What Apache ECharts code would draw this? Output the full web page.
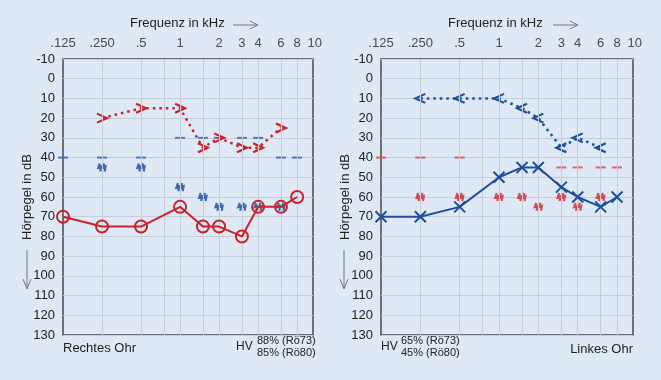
<!DOCTYPE html>
<html><head><meta charset="utf-8">
<script src="https://cdn.jsdelivr.net/npm/echarts@6/dist/echarts.min.js"></script>
<style>html,body{margin:0;padding:0;background:#dee9f5}#c{width:661px;height:380px}</style>
</head><body><div id="c"></div>
<script>
// ---- data ----
const freqTicks = [0.125, 0.25, 0.5, 1, 2, 3, 4, 6, 8, 10];
const freqTickLabels = ['.125', '.250', '.5', '1', '2', '3', '4', '6', '8', '10'];
const gridFreqs = [0.25, 0.5, 0.75, 1, 1.5, 2, 3, 4, 6, 8];
const dbTicksMin = -10, dbTicksMax = 130, dbStep = 10;

const freqAC = [0.125, 0.25, 0.5, 1, 1.5, 2, 3, 4, 6, 8];
const rightEarAC = [70, 75, 75, 65, 75, 75, 80, 65, 65, 60];
const leftEarAC = [70, 70, 65, 50, 45, 45, 55, 60, 65, 60];

const freqBC = [0.25, 0.5, 1, 1.5, 2, 3, 4, 6];
const rightEarBC = [20, 15, 15, 35, 30, 35, 35, 25];
const leftEarBC = [10, 10, 10, 15, 20, 35, 30, 35];

const freqMaskR = [0.125, 0.25, 0.5, 1, 1.5, 2, 3, 4, 6, 8];
const rightEarMask = [40, 40, 40, 30, 30, 30, 30, 30, 40, 40];
const freqMaskL = [0.125, 0.25, 0.5, 3, 4, 6, 8];
const leftEarMask = [40, 40, 40, 45, 45, 45, 45];

const freqWavy = [0.25, 0.5, 1, 1.5, 2, 3, 4, 6];
const rightEarWavy = [45, 45, 55, 60, 65, 65, 65, 65];
const leftEarWavy = [60, 60, 60, 60, 65, 60, 65, 60];

const titleText = 'Frequenz in kHz';
const yName = 'Hörpegel in dB';

// ---- style ----
const BG = '#dee9f5';
const RED = '#c8222c';
const BLUE = '#1e4f9b';
const GRIDC = '#c4ced9';
const TXT = '#222';
const FONT = 'Liberation Sans';
const SYM_X = 'path://M0,0L10,10M10,0L0,10';
const SYM_GT = 'path://M0,0L10,5L0,10';
const SYM_LT = 'path://M10,0L0,5L10,10';
const SYM_WAVY = 'path://M1.5,0L0,5L3,4L2,10M6.5,0L5,5L8,4L7,10';

const zip = (xs, ys) => xs.map((x, i) => [x, ys[i]]);

function xAxisCfg(gi) {
  return {
    gridIndex: gi, type: 'log', logBase: 2, min: 0.125, max: 10.6,
    axisLabel: {show: false}, axisTick: {show: false}, axisLine: {show: false},
    splitLine: {show: false}
  };
}
function yAxisCfg(gi) {
  return {
    gridIndex: gi, type: 'value', inverse: true, min: dbTicksMin, max: dbTicksMax, interval: dbStep,
    axisLine: {show: false}, axisTick: {show: false},
    splitLine: {show: true, lineStyle: {color: GRIDC, width: 1}},
    axisLabel: {color: TXT, fontSize: 13, fontFamily: FONT, margin: 8},
    name: yName, nameLocation: 'middle', nameRotate: 90, nameGap: 29, nameMoveOverlap: false,
    nameTextStyle: {color: TXT, fontSize: 13, fontFamily: FONT}
  };
}
function tickSeries(gi) {
  return {
    type: 'scatter', xAxisIndex: gi, yAxisIndex: gi, symbolSize: 0, silent: true, z: 1, clip: false,
    data: freqTicks.map((f, i) => ({value: [f, dbTicksMin],
      label: i === freqTicks.length - 1 ? {offset: [5, -16]} : undefined})),
    label: {show: true, position: 'inside', offset: [0, -16], color: TXT, fontSize: 13, fontFamily: FONT,
      formatter: p => freqTickLabels[p.dataIndex]},
    markLine: {silent: true, symbol: ['none', 'none'], label: {show: false}, animation: false,
      lineStyle: {color: GRIDC, width: 1, type: 'solid'},
      data: gridFreqs.map(f => ({xAxis: f}))}
  };
}
function maskSeries(gi, xs, ys, color) {
  return {type: 'scatter', xAxisIndex: gi, yAxisIndex: gi, symbol: 'rect', symbolSize: [10, 2], clip: false, z: 3,
    itemStyle: {color: color}, data: zip(xs, ys)};
}
function wavySeries(gi, xs, ys, color) {
  return {type: 'scatter', xAxisIndex: gi, yAxisIndex: gi, symbol: SYM_WAVY, symbolSize: [7, 8], z: 3,
    itemStyle: {color: 'rgba(0,0,0,0)', borderColor: color, borderWidth: 2.4}, data: zip(xs, ys)};
}

const option = {
  backgroundColor: BG,
  animation: false,
  textStyle: {fontFamily: FONT},
  grid: [
    {left: 63, top: 59, width: 250, height: 276, show: true, borderColor: '#4a4a4a', borderWidth: 1.5, backgroundColor: 'transparent'},
    {left: 381, top: 59, width: 252, height: 276, show: true, borderColor: '#4a4a4a', borderWidth: 1.5, backgroundColor: 'transparent'}
  ],
  xAxis: [xAxisCfg(0), xAxisCfg(1)],
  yAxis: [yAxisCfg(0), yAxisCfg(1)],
  series: [
    tickSeries(0), tickSeries(1),
    maskSeries(0, freqMaskR, rightEarMask, '#2d5ea9'),
    maskSeries(1, freqMaskL, leftEarMask, '#e0434c'),
    wavySeries(0, freqWavy, rightEarWavy, '#1a4a98'),
    wavySeries(1, freqWavy, leftEarWavy, '#d4262f'),
    {type: 'line', xAxisIndex: 0, yAxisIndex: 0, z: 4, data: zip(freqBC, rightEarBC),
      symbol: SYM_GT, symbolSize: [10, 9], showAllSymbol: true,
      lineStyle: {color: RED, width: 2.5, type: [2.5, 4]},
      itemStyle: {color: 'rgba(0,0,0,0)', borderColor: RED, borderWidth: 2.2}},
    {type: 'line', xAxisIndex: 1, yAxisIndex: 1, z: 4, data: zip(freqBC, leftEarBC),
      symbol: SYM_LT, symbolSize: [10, 9], showAllSymbol: true,
      lineStyle: {color: BLUE, width: 2.5, type: [2.5, 4]},
      itemStyle: {color: 'rgba(0,0,0,0)', borderColor: BLUE, borderWidth: 2.2}},
    {type: 'line', xAxisIndex: 0, yAxisIndex: 0, z: 5, clip: false, data: zip(freqAC, rightEarAC),
      symbol: 'circle', symbolSize: 12, showAllSymbol: true,
      lineStyle: {color: RED, width: 2},
      itemStyle: {color: 'rgba(0,0,0,0)', borderColor: RED, borderWidth: 2}},
    {type: 'line', xAxisIndex: 1, yAxisIndex: 1, z: 5, clip: false, data: zip(freqAC, leftEarAC),
      symbol: SYM_X, symbolSize: 11, showAllSymbol: true,
      lineStyle: {color: BLUE, width: 2},
      itemStyle: {color: 'rgba(0,0,0,0)', borderColor: BLUE, borderWidth: 2}}
  ],
  graphic: [
    {type: 'text', left: 130, top: 17, style: {text: titleText, fill: TXT, font: '13px "Liberation Sans"'}},
    {type: 'line', shape: {x1: 233, y1: 25, x2: 257, y2: 25}, style: {stroke: '#777', lineWidth: 1}},
    {type: 'polyline', shape: {points: [[250, 21], [258, 25], [250, 29]]}, style: {stroke: '#777', lineWidth: 1, fill: null}},
    {type: 'text', left: 448, top: 17, style: {text: titleText, fill: TXT, font: '13px "Liberation Sans"'}},
    {type: 'line', shape: {x1: 553, y1: 25, x2: 577, y2: 25}, style: {stroke: '#777', lineWidth: 1}},
    {type: 'polyline', shape: {points: [[570, 21], [578, 25], [570, 29]]}, style: {stroke: '#777', lineWidth: 1, fill: null}},

    {type: 'line', shape: {x1: 27, y1: 250, x2: 27, y2: 288}, style: {stroke: '#777', lineWidth: 1}},
    {type: 'polyline', shape: {points: [[23, 279], [27, 289], [31, 279]]}, style: {stroke: '#777', lineWidth: 1, fill: null}},
    {type: 'line', shape: {x1: 344, y1: 250, x2: 344, y2: 288}, style: {stroke: '#777', lineWidth: 1}},
    {type: 'polyline', shape: {points: [[340, 279], [344, 289], [348, 279]]}, style: {stroke: '#777', lineWidth: 1, fill: null}},

    {type: 'text', left: 63, top: 342, style: {text: 'Rechtes Ohr', fill: TXT, font: '13px "Liberation Sans"'}},
    {type: 'text', left: 236, top: 341, style: {text: 'HV', fill: TXT, font: '12px "Liberation Sans"'}},
    {type: 'text', left: 257, top: 335, style: {text: '88% (Rö73)', fill: TXT, font: '11px "Liberation Sans"'}},
    {type: 'text', left: 257, top: 347, style: {text: '85% (Rö80)', fill: TXT, font: '11px "Liberation Sans"'}},

    {type: 'text', left: 381, top: 341, style: {text: 'HV', fill: TXT, font: '12px "Liberation Sans"'}},
    {type: 'text', left: 401, top: 335, style: {text: '65% (Rö73)', fill: TXT, font: '11px "Liberation Sans"'}},
    {type: 'text', left: 401, top: 347, style: {text: '45% (Rö80)', fill: TXT, font: '11px "Liberation Sans"'}},
    {type: 'text', right: 28, top: 343, style: {text: 'Linkes Ohr', fill: TXT, font: '13px "Liberation Sans"'}}
  ]
};
const chart = echarts.init(document.getElementById('c'), null, {renderer: 'canvas'});
chart.setOption(option);
</script></body></html>
